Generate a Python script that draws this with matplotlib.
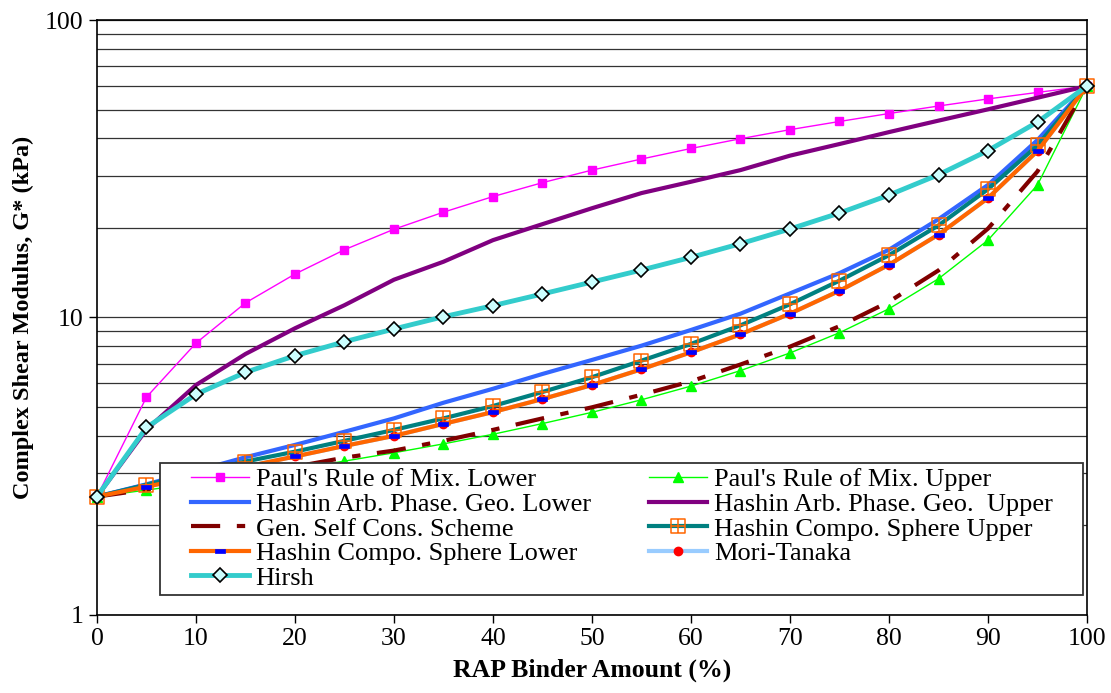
"""Complex shear modulus of RAP/virgin binder blends: micromechanical model bounds."""
import matplotlib
matplotlib.use("Agg")
import matplotlib.pyplot as plt
from matplotlib.patches import Rectangle
from matplotlib.path import Path
from matplotlib.ticker import FixedLocator, FixedFormatter, LogLocator, NullFormatter

plt.rcParams["font.family"] = ["Liberation Serif", "DejaVu Serif"]

rap_pct = [0, 5, 10, 15, 20, 25, 30, 35, 40, 45, 50,
           55, 60, 65, 70, 75, 80, 85, 90, 95, 100]

pauls_lower = [2.5, 5.4, 8.2, 11.2, 14.0, 16.9, 19.8, 22.6, 25.5, 28.4, 31.3,
               34.1, 37.0, 39.9, 42.8, 45.6, 48.5, 51.4, 54.3, 57.1, 60.0]
pauls_upper = [2.5, 2.63, 2.77, 2.92, 3.09, 3.29, 3.51, 3.76, 4.05, 4.40, 4.80,
               5.29, 5.88, 6.63, 7.60, 8.89, 10.7, 13.5, 18.2, 27.9, 60.0]
hashin_arb_lower = [2.5, 2.75, 3.05, 3.39, 3.73, 4.13, 4.58, 5.17, 5.76, 6.46, 7.20,
                    8.04, 9.08, 10.3, 12.05, 14.1, 16.9, 21.4, 27.9, 39.5, 60.0]
hashin_arb_upper = [2.5, 4.2, 5.93, 7.54, 9.2, 11.0, 13.4, 15.4, 18.2, 20.6, 23.3,
                    26.2, 28.6, 31.3, 35.0, 38.3, 42.0, 45.9, 50.1, 54.8, 60.0]
gen_self_cons = [2.5, 2.64, 2.79, 2.96, 3.15, 3.38, 3.57, 3.85, 4.19, 4.58, 4.99,
                 5.5, 6.1, 6.95, 7.98, 9.35, 11.3, 14.4, 19.9, 31.0, 60.0]
hcs_upper = [2.5, 2.74, 3.0, 3.28, 3.54, 3.85, 4.19, 4.58, 5.04, 5.62, 6.30,
             7.16, 8.15, 9.41, 11.08, 13.3, 16.2, 20.4, 27.0, 37.9, 60.0]
hcs_lower = [2.5, 2.70, 2.92, 3.15, 3.41, 3.70, 4.0, 4.39, 4.81, 5.32, 5.93,
             6.70, 7.64, 8.78, 10.3, 12.3, 15.05, 19.0, 25.2, 36.3, 60.0]
mori_tanaka = [2.5, 2.70, 2.92, 3.15, 3.41, 3.70, 4.0, 4.39, 4.81, 5.32, 5.93,
               6.70, 7.64, 8.78, 10.3, 12.3, 15.05, 19.0, 25.2, 36.3, 60.0]
hirsh = [2.5, 4.27, 5.52, 6.54, 7.44, 8.29, 9.15, 10.06, 10.96, 12.0, 13.16,
         14.44, 15.93, 17.71, 19.84, 22.45, 25.8, 30.2, 36.4, 45.4, 60.0]

# square with a cross through it (open marker)
sq_plus = Path(
    [(-1, -1), (1, -1), (1, 1), (-1, 1), (-1, -1), (0, -1), (0, 1), (-1, 0), (1, 0)],
    [Path.MOVETO, Path.LINETO, Path.LINETO, Path.LINETO, Path.CLOSEPOLY,
     Path.MOVETO, Path.LINETO, Path.MOVETO, Path.LINETO],
)
# short flat bar
flat_bar = Path(
    [(-1, -0.4), (1, -0.4), (1, 0.4), (-1, 0.4), (-1, -0.4)],
    [Path.MOVETO, Path.LINETO, Path.LINETO, Path.LINETO, Path.CLOSEPOLY],
)

fig = plt.figure(figsize=(11.11, 6.93), dpi=100)
ax = fig.add_axes([0.0873, 0.1126, 0.8911, 0.8585])

kw = dict(clip_on=False)
h_mt, = ax.plot(rap_pct, mori_tanaka, color="#99ccff", lw=3, marker="o", ms=6,
                mfc="red", mec="red", label="Mori-Tanaka", zorder=2, **kw)
h_pl, = ax.plot(rap_pct, pauls_lower, color="#ff00ff", lw=1.0, marker="s", ms=6,
                mfc="#ff00ff", mec="#ff00ff", label="Paul's Rule of Mix. Lower", zorder=3, **kw)
h_pu, = ax.plot(rap_pct, pauls_upper, color="#00ff00", lw=1.0, marker="^", ms=7,
                mfc="#00ff00", mec="#00ff00", label="Paul's Rule of Mix. Upper", zorder=3, **kw)
h_al, = ax.plot(rap_pct, hashin_arb_lower, color="#3366ff", lw=3,
                label="Hashin Arb. Phase. Geo. Lower", zorder=3, **kw)
h_au, = ax.plot(rap_pct, hashin_arb_upper, color="#800080", lw=3,
                label="Hashin Arb. Phase. Geo.  Upper", zorder=3, **kw)
h_gs, = ax.plot(rap_pct, gen_self_cons, color="#800000", lw=3,
                dashes=(7, 4, 2, 4), label="Gen. Self Cons. Scheme", zorder=3, **kw)
h_cu, = ax.plot(rap_pct, hcs_upper, color="#008080", lw=3, marker=sq_plus, ms=10,
                mfc="none", mec="#ff6600", mew=1.1,
                label="Hashin Compo. Sphere Upper", zorder=4, **kw)
h_cl, = ax.plot(rap_pct, hcs_lower, color="#ff6600", lw=3, marker=flat_bar, ms=7,
                mfc="#0000ff", mec="#0000ff", mew=0.5,
                label="Hashin Compo. Sphere Lower", zorder=4, **kw)
h_hi, = ax.plot(rap_pct, hirsh, color="#33cccc", lw=3.5, marker="D", ms=7,
                mfc="#ccffff", mec="black", mew=1.2, label="Hirsh", zorder=5, **kw)

ax.set_yscale("log")
ax.set_xlim(0, 100)
ax.set_ylim(1, 100)
ax.xaxis.set_major_locator(FixedLocator(range(0, 101, 10)))
ax.yaxis.set_major_locator(FixedLocator([1, 10, 100]))
ax.yaxis.set_major_formatter(FixedFormatter(["1", "10", "100"]))
ax.yaxis.set_minor_locator(LogLocator(base=10, subs=range(2, 10)))
ax.yaxis.set_minor_formatter(NullFormatter())
ax.tick_params(axis="both", which="major", direction="out", length=6,
               width=1, labelsize=18.5, colors="black")
ax.tick_params(axis="y", which="minor", length=0)
ax.grid(True, axis="y", which="both", color="#333333", lw=0.9)
ax.set_axisbelow(True)
for sp in ax.spines.values():
    sp.set_color("black")
    sp.set_linewidth(1.2)

ax.set_xlabel("RAP Binder Amount (%)", fontsize=18.5, fontweight="bold", labelpad=6)
ax.set_ylabel("Complex Shear Modulus, G* (kPa)", fontsize=17.5, fontweight="bold", labelpad=8)

# legend frame drawn separately so the side padding can be wider than the top/bottom
ax.add_patch(Rectangle((0.0636, 0.0336), 0.9323, 0.2218, transform=ax.transAxes,
                       facecolor="white", edgecolor="#333333", lw=1.3,
                       zorder=9, clip_on=False))

handles = [h_pl, h_al, h_gs, h_cl, h_hi, h_pu, h_au, h_cu, h_mt]
leg = ax.legend(handles=handles, ncol=2, loc="upper left",
                bbox_to_anchor=(0.0949, 0.247), fontsize=19, frameon=False,
                handlelength=2.2, handletextpad=0.25, labelspacing=0.04,
                columnspacing=2.22, borderpad=0, borderaxespad=0)
leg.set_zorder(10)

fig.savefig("out.png", dpi=100)
